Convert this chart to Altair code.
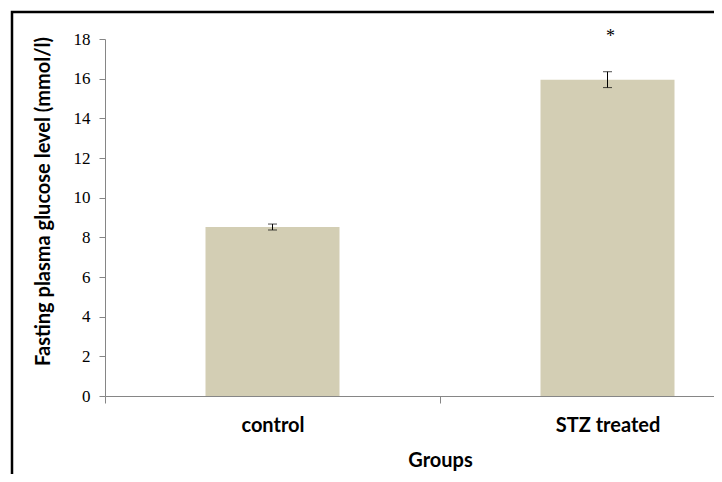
import altair as alt
import pandas as pd

groups = ["control", "STZ treated"]
means = [8.52, 15.95]
errors = [0.15, 0.40]
marks = ["", "*"]
y_ticks = [0, 2, 4, 6, 8, 10, 12, 14, 16, 18]

df = pd.DataFrame({
    "group": groups,
    "mean": means,
    "err": errors,
    "mark": marks,
})
df["lo"] = df["mean"] - df["err"]
df["hi"] = df["mean"] + df["err"]

base = alt.Chart(df)

x_axis = alt.Axis(
    labelAngle=0,
    tickBand="extent",
    labelFont="Lato",
    labelFontWeight="bold",
    labelFontSize=20,
    labelColor="#000000",
    labelPadding=12,
    titleFont="Lato",
    titleFontWeight="bold",
    titleFontSize=20,
    titleColor="#000000",
    titlePadding=15,
    domainColor="#868686",
    tickColor="#868686",
    tickSize=7,
)
x_enc = alt.X(
    "group:N",
    sort=groups,
    title="Groups",
    scale=alt.Scale(range=[0, 670], paddingInner=0, paddingOuter=0),
    axis=x_axis,
)

y_scale = alt.Scale(domain=[0, 18], nice=False)
y_axis = alt.Axis(
    values=y_ticks,
    grid=False,
    labelFont="Liberation Serif",
    labelFontSize=17,
    labelColor="#000000",
    labelPadding=9,
    labelOverlap=False,
    titleFont="Lato",
    titleFontWeight="bold",
    titleFontSize=20,
    titleColor="#000000",
    titlePadding=20,
    titleY=162,
    domainColor="#868686",
    tickColor="#868686",
    tickSize=6,
)
y_title = "Fasting plasma glucose level (mmol/l)"

bars = base.mark_bar(size=134, color="#D3CEB4").encode(
    x=x_enc,
    y=alt.Y("mean:Q", scale=y_scale, title=y_title, axis=y_axis),
)

rules = base.mark_rule(color="#000000", strokeWidth=1).encode(
    x=x_enc,
    y=alt.Y("lo:Q", scale=y_scale, title=y_title, axis=y_axis),
    y2="hi:Q",
)
cap_lo = base.mark_tick(color="#000000", size=9, thickness=1, orient="horizontal").encode(
    x=x_enc,
    y=alt.Y("lo:Q", scale=y_scale, title=y_title, axis=y_axis),
)
cap_hi = base.mark_tick(color="#000000", size=9, thickness=1, orient="horizontal").encode(
    x=x_enc,
    y=alt.Y("hi:Q", scale=y_scale, title=y_title, axis=y_axis),
)
stars = base.mark_text(
    font="Liberation Serif", fontSize=18, dy=-35, dx=3, baseline="middle", color="#000000"
).encode(
    x=x_enc,
    y=alt.Y("hi:Q", scale=y_scale, title=y_title, axis=y_axis),
    text="mark:N",
)

border = alt.Chart(pd.DataFrame({"k": [0]})).mark_rect(
    fill=None, stroke="#000000", strokeWidth=2.5
).encode(
    x=alt.value(-93),
    x2=alt.value(800),
    y=alt.value(-27),
    y2=alt.value(600),
)

chart = alt.layer(border, bars, rules, cap_lo, cap_hi, stars).properties(
    width=609,
    height=357,
    padding={"left": 97, "top": 31, "right": 0, "bottom": 78},
    autosize=alt.AutoSizeParams(type="none"),
).configure(background="#ffffff").configure_view(stroke="transparent", strokeWidth=0)

chart.save("out.html", embed_options={"renderer": "svg", "actions": False})
